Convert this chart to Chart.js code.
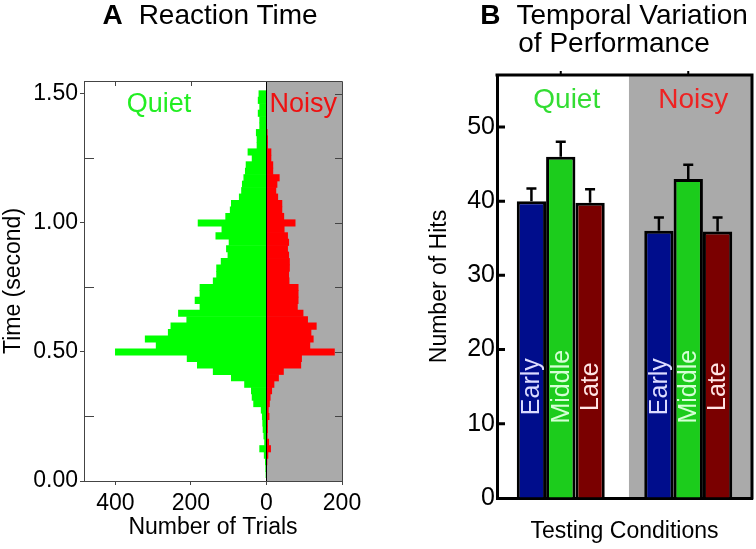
<!DOCTYPE html>
<html>
<head>
<meta charset="utf-8">
<script src="https://cdn.jsdelivr.net/npm/chart.js@4/dist/chart.umd.min.js"></script>
<style>
body{margin:0;background:#fff;font-family:"Liberation Sans",Arial,sans-serif}
#wrap{position:relative;width:756px;height:549px;overflow:hidden}
canvas{position:absolute;top:0}
#cA{left:0}
#cB{left:378px}
.ttl{position:absolute;top:1px;font-size:28px;line-height:28px;text-align:center;color:#000;white-space:nowrap}
.ttl b{margin-right:16px}
</style>
</head>
<body>
<div id="wrap">
  <canvas id="cA" width="378" height="549"></canvas>
  <canvas id="cB" width="378" height="549"></canvas>
  <div class="ttl" style="left:60px;width:300px"><b>A</b>Reaction Time</div>
  <div class="ttl" style="left:464px;width:300px"><b>B</b>Temporal Variation<br>of Performance</div>
</div>
<script>
Chart.defaults.font.family = '"Liberation Sans", Arial, sans-serif'
Chart.defaults.color = '#000'
Chart.defaults.animation = false

// ---- panel A : reaction time histogram (bin centres in seconds)
var timeBins = [0.025,0.05,0.075,0.1,0.125,0.15,0.175,0.2,0.225,0.25,
  0.275,0.3,0.325,0.35,0.375,0.4,0.425,0.45,0.475,0.5,
  0.525,0.55,0.575,0.6,0.625,0.65,0.675,0.7,0.725,0.75,
  0.775,0.8,0.825,0.85,0.875,0.9,0.925,0.95,0.975,1.0,
  1.025,1.05,1.075,1.1,1.125,1.15,1.175,1.2,1.225,1.25,
  1.275,1.3,1.325,1.35,1.375,1.4,1.425,1.45,1.475,1.5]
var quietTrials = [1,2,3,6,18,5,7,9,10,11,
  14,34,38,40,58,93,141,183,210,400,
  292,321,260,253,211,233,176,189,176,176,
  141,132,132,120,102,106,99,134,118,181,
  108,96,93,72,66,64,60,56,54,38,
  49,25,25,27,18,18,22,18,22,20]
var noisyTrials = [0,0,1,4,11,6,2,3,3,7,
  5,8,10,14,20,32,45,91,93,180,
  115,124,118,132,109,97,82,84,84,84,
  60,59,61,61,59,56,59,56,47,76,
  46,41,41,30,25,28,34,17,17,12,
  12,3,3,2,0,0,0,0,0,0]
var timeTicks = [0, 0.5, 1.0, 1.5]
var timeMinorTicks = [0.25, 0.75, 1.25]
var trialTicks = [-400, -200, 0, 200]

// ---- panel B : hits per period
var conditions = ['Quiet', 'Noisy']
var periods = ['Early', 'Middle', 'Late']
var hitsEarly = [40.0, 36.0]
var hitsMiddle = [46.0, 43.0]
var hitsLate = [39.8, 35.9]
var errEarly = [1.7, 1.8]
var errMiddle = [2.0, 1.9]
var errLate = [1.8, 1.9]
var hitTicks = [0, 10, 20, 30, 40, 50]

var panelA = {
  id: 'panelA',
  beforeDraw: function(chart){
    var ctx = chart.ctx, a = chart.chartArea, x = chart.scales.x
    var x0 = x.getPixelForValue(0)
    ctx.save()
    ctx.fillStyle = '#aaaaaa'
    ctx.fillRect(x0, a.top, a.right - x0, a.bottom - a.top)
    ctx.restore()
  },
  afterDatasetsDraw: function(chart){
    var ctx = chart.ctx, a = chart.chartArea, x = chart.scales.x, y = chart.scales.y
    ctx.save()
    // zero line
    var x0 = Math.round(x.getPixelForValue(0)) + 0.5
    ctx.strokeStyle = '#000'
    ctx.lineWidth = 1
    ctx.beginPath(); ctx.moveTo(x0, a.top); ctx.lineTo(x0, a.bottom); ctx.stroke()
    // top and right frame
    ctx.strokeStyle = '#444'
    ctx.beginPath()
    ctx.moveTo(a.left, a.top + 0.5); ctx.lineTo(a.right + 0.5, a.top + 0.5)
    ctx.lineTo(a.right + 0.5, a.bottom)
    ctx.stroke()
    // inner ticks
    ctx.beginPath()
    timeMinorTicks.forEach(function(v){
      var py = Math.round(y.getPixelForValue(v)) + 0.5
      ctx.moveTo(a.left, py); ctx.lineTo(a.left + 10, py)
    })
    timeTicks.concat(timeMinorTicks).forEach(function(v){
      if (v === 0) return
      var py = Math.round(y.getPixelForValue(v)) + 0.5
      ctx.moveTo(a.right, py); ctx.lineTo(a.right - 7, py)
    })
    trialTicks.forEach(function(v){
      if (v >= 0) return
      var px = Math.round(x.getPixelForValue(v)) + 0.5
      ctx.moveTo(px, a.top); ctx.lineTo(px, a.top + 5)
    })
    ctx.stroke()
    // condition labels
    ctx.font = '27px "Liberation Sans", Arial, sans-serif'
    ctx.textAlign = 'left'
    ctx.textBaseline = 'alphabetic'
    ctx.fillStyle = '#22ee22'
    ctx.fillText('Quiet', x.getPixelForValue(-370), y.getPixelForValue(1.43))
    ctx.fillStyle = '#ee1111'
    ctx.fillText('Noisy', x.getPixelForValue(8), y.getPixelForValue(1.43))
    ctx.restore()
  }
}

new Chart(document.getElementById('cA'), {
  type: 'bar',
  data: {
    datasets: [
      {label: 'Quiet', data: timeBins.map(function(t, i){ return {y: t, x: -quietTrials[i]} }), backgroundColor: '#00ff00'},
      {label: 'Noisy', data: timeBins.map(function(t, i){ return {y: t, x: noisyTrials[i]} }), backgroundColor: '#ff0000'}
    ]
  },
  options: {
    indexAxis: 'y',
    responsive: false,
    layout: {padding: {top: 81, right: 36, left: 0, bottom: 0}},
    plugins: {legend: {display: false}, tooltip: {enabled: false}},
    datasets: {bar: {barPercentage: 1, categoryPercentage: 1, grouped: false, borderWidth: 0}},
    scales: {
      y: {
        type: 'linear', min: 0, max: 1.55, offset: false,
        afterFit: function(s){ s.width = 84 },
        afterBuildTicks: function(s){ s.ticks = timeTicks.map(function(v){ return {value: v} }) },
        ticks: {callback: function(v){ return Number(v).toFixed(2) }, font: {size: 23}, padding: 2},
        grid: {drawOnChartArea: false, tickLength: 4, color: '#444', offset: false},
        border: {color: '#444'},
        title: {display: true, text: 'Time (second)', font: {size: 23}, padding: 0}
      },
      x: {
        type: 'linear', min: -483, max: 200, offset: false,
        afterFit: function(s){ s.height = 68 },
        afterBuildTicks: function(s){ s.ticks = trialTicks.map(function(v){ return {value: v} }) },
        ticks: {callback: function(v){ return Math.abs(v) }, font: {size: 23}, padding: 5, maxRotation: 0},
        grid: {drawOnChartArea: false, tickLength: 4, color: '#444'},
        border: {color: '#444'},
        title: {display: true, text: 'Number of Trials', font: {size: 23}, padding: {top: 0, bottom: 8}}
      }
    }
  },
  plugins: [panelA]
})

var barTextColors = ['#dcdcff', '#d6ffd6', '#ffe4e4']
var errors = [errEarly, errMiddle, errLate]

var panelB = {
  id: 'panelB',
  beforeDraw: function(chart){
    var ctx = chart.ctx, a = chart.chartArea, x = chart.scales.x
    var xg = x.getPixelForValue(0.535)
    ctx.save()
    ctx.fillStyle = '#aaaaaa'
    ctx.fillRect(xg, a.top, a.right - xg, a.bottom - a.top)
    ctx.restore()
  },
  afterDatasetsDraw: function(chart){
    var ctx = chart.ctx, a = chart.chartArea, x = chart.scales.x, y = chart.scales.y
    ctx.save()
    // error bars (upper only)
    ctx.strokeStyle = '#000'
    ctx.lineWidth = 2.5
    chart.data.datasets.forEach(function(ds, i){
      var meta = chart.getDatasetMeta(i)
      meta.data.forEach(function(bar, j){
        var top = y.getPixelForValue(ds.data[j] + errors[i][j])
        ctx.beginPath()
        ctx.moveTo(bar.x, bar.y); ctx.lineTo(bar.x, top)
        ctx.moveTo(bar.x - 5, top); ctx.lineTo(bar.x + 5, top)
        ctx.stroke()
      })
    })
    // labels inside bars
    ctx.font = '25px "Liberation Sans", Arial, sans-serif'
    ctx.textAlign = 'center'
    ctx.textBaseline = 'middle'
    chart.data.datasets.forEach(function(ds, i){
      var meta = chart.getDatasetMeta(i)
      meta.data.forEach(function(bar){
        ctx.save()
        ctx.translate(bar.x, y.getPixelForValue(15))
        ctx.rotate(-Math.PI / 2)
        ctx.fillStyle = barTextColors[i]
        ctx.fillText(ds.label, 0, 1)
        ctx.restore()
      })
    })
    // frame top/right
    ctx.lineWidth = 3
    ctx.beginPath()
    ctx.moveTo(a.left - 1.5, a.top); ctx.lineTo(a.right, a.top); ctx.lineTo(a.right, a.bottom + 1.5)
    ctx.stroke()
    // inward y ticks
    ctx.beginPath()
    hitTicks.forEach(function(v){
      if (v === 0) return
      var py = y.getPixelForValue(v)
      ctx.moveTo(a.left, py); ctx.lineTo(a.left + 8, py)
    })
    ctx.stroke()
    // small ticks on top at group centres
    ctx.lineWidth = 2
    ctx.beginPath()
    conditions.forEach(function(c, i){
      var px = x.getPixelForValue(i)
      ctx.moveTo(px, a.top); ctx.lineTo(px, a.top - 4)
    })
    ctx.stroke()
    // condition labels
    ctx.font = '28px "Liberation Sans", Arial, sans-serif'
    ctx.textBaseline = 'alphabetic'
    ctx.fillStyle = '#33dd33'
    ctx.fillText(conditions[0], x.getPixelForValue(0) + 6, y.getPixelForValue(52.6))
    ctx.fillStyle = '#ee2222'
    ctx.fillText(conditions[1], x.getPixelForValue(1) + 5, y.getPixelForValue(52.6))
    ctx.restore()
  }
}

new Chart(document.getElementById('cB'), {
  type: 'bar',
  data: {
    labels: conditions,
    datasets: [
      {label: periods[0], data: hitsEarly, backgroundColor: '#000d8c'},
      {label: periods[1], data: hitsMiddle, backgroundColor: '#1ccc1c'},
      {label: periods[2], data: hitsLate, backgroundColor: '#7a0000'}
    ]
  },
  options: {
    responsive: false,
    layout: {padding: {top: 75, right: 4, left: 0, bottom: 0}},
    plugins: {legend: {display: false}, tooltip: {enabled: false}},
    datasets: {bar: {categoryPercentage: 0.69, barPercentage: 1, borderColor: '#000', borderWidth: 3, borderSkipped: 'start'}},
    scales: {
      x: {
        afterFit: function(s){ s.height = 51 },
        ticks: {display: false},
        grid: {display: false, drawTicks: false},
        border: {color: '#000', width: 3},
        title: {display: true, text: 'Testing Conditions', font: {size: 23}, padding: {top: 0, bottom: 4}}
      },
      y: {
        min: 0, max: 57,
        afterFit: function(s){ s.width = 119 },
        afterBuildTicks: function(s){ s.ticks = hitTicks.map(function(v){ return {value: v} }) },
        ticks: {font: {size: 25}, padding: 2},
        grid: {drawOnChartArea: false, drawTicks: false},
        border: {color: '#000', width: 3},
        title: {display: true, text: 'Number of Hits', font: {size: 23}, padding: {top: 48, bottom: 0}}
      }
    }
  },
  plugins: [panelB]
})
</script>
</body>
</html>
